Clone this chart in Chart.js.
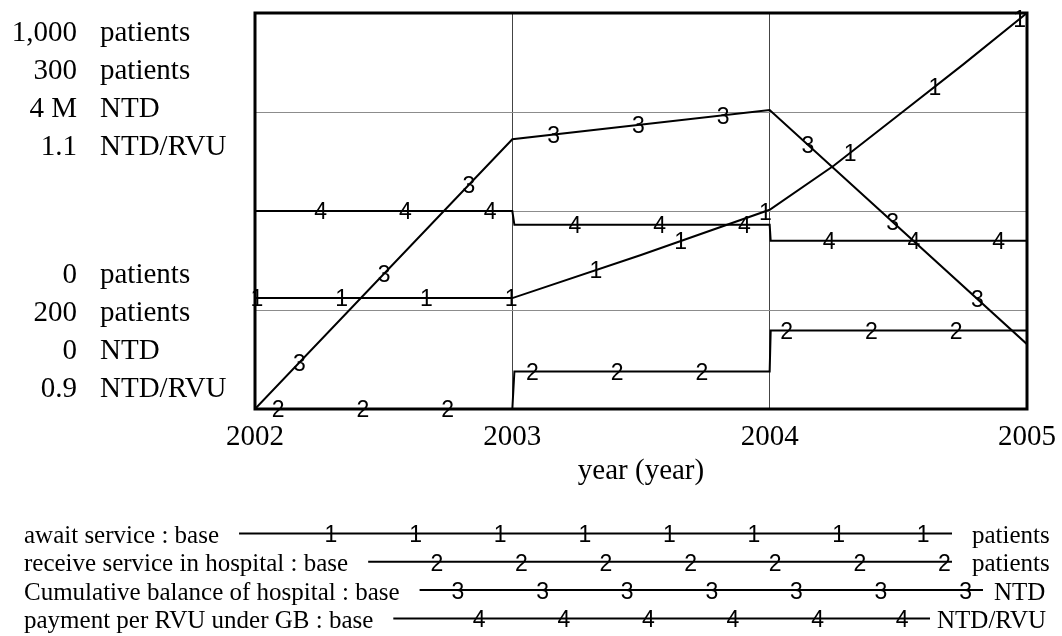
<!DOCTYPE html>
<html>
<head>
<meta charset="utf-8">
<script src="https://cdn.jsdelivr.net/npm/chart.js@4.4.1/dist/chart.umd.min.js"></script>
<style>
  html, body { margin: 0; padding: 0; background: #fff; }
  #wrap { width: 1062px; height: 636px; }
</style>
</head>
<body>
<div id="wrap"><canvas id="c" width="1062" height="636"></canvas></div>
<script>
// ---- data (simulation run "base") ----
const yearTicks = [2002, 2003, 2004, 2005];

const awaitTime = [2002, 2003, 2003.5, 2004, 2004.25, 2004.5, 2004.75, 2005];
const awaitService = [280, 280, 389, 503, 615, 742, 869, 1000];

const receiveTime = [2002, 2003, 2003.008, 2004, 2004.004, 2005];
const receiveService = [200, 200, 209.5, 209.5, 219.8, 219.8];

const balanceTime = [2002, 2003, 2004, 2005];
const cumulativeBalance = [0, 2725000, 3020000, 655000];

const paymentTime = [2002, 2003, 2003.008, 2004, 2004.004, 2005];
const paymentPerRVU = [1.0, 1.0, 0.993, 0.993, 0.985, 0.985];

const seriesNames = [
  'await service : base',
  'receive service in hospital : base',
  'Cumulative balance of hospital : base',
  'payment per RVU under GB : base'
];
const seriesUnits = ['patients', 'patients', 'NTD', 'NTD/RVU'];
const scaleMinValues = [0, 200, 0, 0.9];
const scaleMaxValues = [1000, 300, 4000000, 1.1];
const scaleMaxLabels = ['1,000', '300', '4 M', '1.1'];
const scaleMinLabels = ['0', '200', '0', '0.9'];
const xTitle = 'year (year)';

// ---- styling ----
const SERIF = '"Liberation Serif", "Times New Roman", serif';
const SANS = '"Liberation Sans", Arial, sans-serif';
const AXIS_FONT = 29;
const LEGEND_FONT = 25;
const DIGIT_FONT = 23;

const pts = (xs, ys) => xs.map((x, i) => ({ x: x, y: ys[i] }));
const seriesData = [
  pts(awaitTime, awaitService),
  pts(receiveTime, receiveService),
  pts(balanceTime, cumulativeBalance),
  pts(paymentTime, paymentPerRVU)
];
const axisIds = ['y1', 'y2', 'y3', 'y4'];

function valueAt(data, t) {
  for (let j = 0; j < data.length - 1; j++) {
    const a = data[j], b = data[j + 1];
    if (t >= a.x && t <= b.x) {
      if (b.x === a.x) return b.y;
      return a.y + (b.y - a.y) * (t - a.x) / (b.x - a.x);
    }
  }
  return data[data.length - 1].y;
}

// Vensim-style decorations: frame, stacked scale labels, numbered line markers, legend
const vensimDecor = {
  id: 'vensimDecor',
  afterDatasetsDraw(chart) {
    const ctx = chart.ctx;
    const area = chart.chartArea;
    const xs = chart.scales.x;
    ctx.save();

    // numbered markers along each line
    ctx.fillStyle = '#000';
    ctx.font = DIGIT_FONT + 'px ' + SANS;
    ctx.textAlign = 'center';
    ctx.textBaseline = 'middle';
    const step = 84.75, shift = 21.2;
    chart.data.datasets.forEach((ds, i) => {
      const ys = chart.scales[ds.yAxisID];
      for (let px = area.left + 2 + i * shift; px <= area.right; px += step) {
        const t = xs.getValueForPixel(px);
        const py = ys.getPixelForValue(valueAt(ds.data, t));
        ctx.fillText(String(i + 1), px, py + 2);
      }
    });

    // plot frame
    ctx.strokeStyle = '#000';
    ctx.lineWidth = 3;
    ctx.strokeRect(area.left, area.top, area.right - area.left, area.bottom - area.top);

    // stacked scale labels on the left
    ctx.font = AXIS_FONT + 'px ' + SERIF;
    ctx.textBaseline = 'alphabetic';
    for (let i = 0; i < 4; i++) {
      const yTop = area.top + 28 + 38 * i;
      const yBot = area.bottom - 12 - 38 * (3 - i);
      ctx.textAlign = 'right';
      ctx.fillText(scaleMaxLabels[i], 77, yTop);
      ctx.fillText(scaleMinLabels[i], 77, yBot);
      ctx.textAlign = 'left';
      ctx.fillText(seriesUnits[i], 100, yTop);
      ctx.fillText(seriesUnits[i], 100, yBot);
    }
    ctx.restore();
  },
  afterDraw(chart) {
    const ctx = chart.ctx;
    ctx.save();
    const rowY = [533.5, 561.8, 590.1, 618.4];
    const lineEnd = [952, 952, 983, 930];
    const unitX = [972, 972, 994, 937];
    const textX = 24;
    for (let i = 0; i < 4; i++) {
      const y = rowY[i];
      ctx.font = LEGEND_FONT + 'px ' + SERIF;
      ctx.fillStyle = '#000';
      ctx.textAlign = 'left';
      ctx.textBaseline = 'alphabetic';
      ctx.fillText(seriesNames[i], textX, y + 9.5);
      ctx.fillText(seriesUnits[i], unitX[i], y + 9.5);
      const start = textX + ctx.measureText(seriesNames[i]).width + 20;
      ctx.strokeStyle = '#000';
      ctx.lineWidth = 2;
      ctx.beginPath();
      ctx.moveTo(start, y);
      ctx.lineTo(lineEnd[i], y);
      ctx.stroke();
      ctx.font = DIGIT_FONT + 'px ' + SANS;
      ctx.textAlign = 'center';
      ctx.textBaseline = 'middle';
      for (let px = 331 + i * 21.2 - 84.6 * 4; px <= lineEnd[i] - 7; px += 84.6) {
        if (px >= start + 10) ctx.fillText(String(i + 1), px, y + 2.5);
      }
    }
    ctx.restore();
  }
};

const yScales = {};
axisIds.forEach((id, i) => {
  yScales[id] = {
    type: 'linear',
    display: i === 0,
    min: scaleMinValues[i],
    max: scaleMaxValues[i],
    ticks: { display: false, stepSize: (scaleMaxValues[i] - scaleMinValues[i]) / 4 },
    grid: { display: true, color: '#8c8c8c', lineWidth: 1, drawTicks: false },
    border: { display: false }
  };
});

new Chart(document.getElementById('c'), {
  type: 'line',
  data: {
    datasets: seriesData.map((d, i) => ({
      label: seriesNames[i],
      data: d,
      yAxisID: axisIds[i],
      borderColor: '#000',
      borderWidth: 2,
      pointRadius: 0,
      tension: 0,
      fill: false
    }))
  },
  options: {
    responsive: false,
    animation: false,
    devicePixelRatio: 1,
    layout: { padding: { left: 255, right: 35, top: 13, bottom: 147 } },
    plugins: { legend: { display: false }, tooltip: { enabled: false } },
    scales: Object.assign({
      x: {
        type: 'linear',
        min: yearTicks[0],
        max: yearTicks[yearTicks.length - 1],
        afterBuildTicks: (scale) => { scale.ticks = yearTicks.map(v => ({ value: v })); },
        afterFit: (scale) => {
          scale.height = 80;
          scale.paddingLeft = 0;
          scale.paddingRight = 0;
        },
        ticks: {
          color: '#000',
          padding: 11,
          maxRotation: 0,
          font: { family: SERIF, size: AXIS_FONT },
          callback: (v) => String(v)
        },
        grid: { display: true, color: '#444', lineWidth: 1, drawTicks: false },
        border: { display: false },
        title: {
          display: true,
          text: xTitle,
          color: '#000',
          font: { family: SERIF, size: AXIS_FONT },
          padding: { top: 0, bottom: 0 }
        }
      }
    }, yScales)
  },
  plugins: [vensimDecor]
});
</script>
</body>
</html>
